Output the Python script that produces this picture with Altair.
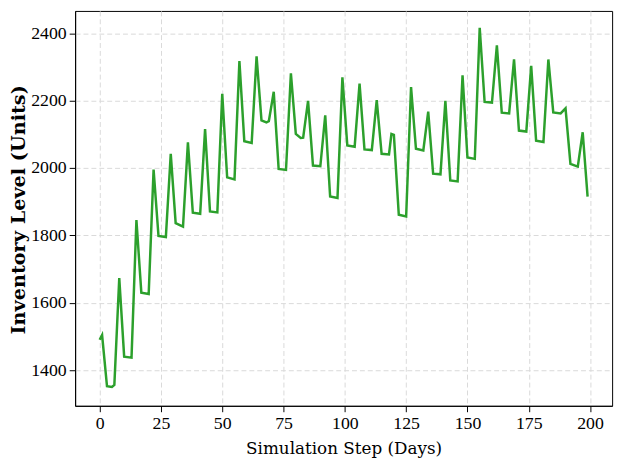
import altair as alt
import pandas as pd

steps = [0, 1, 3, 5, 6, 8, 10, 13, 15, 17, 20, 22, 24, 27, 29, 31, 34, 36, 38, 41,
         43, 45, 48, 50, 52, 55, 57, 59, 62, 64, 66, 68, 69, 71, 73, 76, 78, 80, 82, 83,
         85, 87, 90, 92, 94, 97, 99, 101, 104, 106, 108, 111, 113, 115, 118, 119, 120, 122, 125, 127,
         129, 132, 134, 136, 139, 141, 143, 146, 148, 150, 153, 155, 157, 160, 162, 164, 167, 169, 171, 174,
         176, 178, 181, 183, 185, 188, 190, 192, 195, 197, 199]
inventory = [1490, 1504, 1352, 1350, 1356, 1673, 1440, 1437, 1845, 1630, 1626, 1995, 1798, 1795, 2042, 1836, 1826, 2076, 1867, 1864,
             2115, 1871, 1868, 2220, 1972, 1966, 2317, 2079, 2074, 2331, 2141, 2135, 2139, 2226, 1997, 1994, 2281, 2101, 2089, 2090,
             2199, 2007, 2005, 2156, 1915, 1911, 2269, 2067, 2063, 2250, 2055, 2053, 2201, 2042, 2040, 2101, 2098, 1861, 1856, 2240,
             2057, 2052, 2167, 1983, 1981, 2199, 1963, 1960, 2275, 2031, 2027, 2416, 2196, 2194, 2364, 2164, 2162, 2322, 2111, 2108,
             2303, 2081, 2077, 2322, 2165, 2162, 2177, 2012, 2004, 2106, 1915]
x_ticks = [0, 25, 50, 75, 100, 125, 150, 175, 200]
y_ticks = [1400, 1600, 1800, 2000, 2200, 2400]

df = pd.DataFrame({"step": steps, "inventory": inventory})

grid_color = "#d9d9d9"
tick_font = "Liberation Serif, Times New Roman, Times, serif"

chart = alt.Chart(df).mark_line(color="#2ca02c", strokeWidth=2.5).encode(
    x=alt.X("step:Q",
            scale=alt.Scale(domain=[-10, 209], nice=False, zero=False),
            axis=alt.Axis(values=x_ticks, format="d", title="Simulation Step (Days)",
                          labelFont=tick_font, labelFontSize=18, labelColor="black",
                          titleFont="DejaVu Serif", titleFontSize=17, titleFontWeight="normal",
                          titleColor="black", titlePadding=8,
                          tickColor="black", tickSize=6, labelPadding=3,
                          domainColor="black",
                          grid=True, gridColor=grid_color, gridDash=[5, 3], gridWidth=1)),
    y=alt.Y("inventory:Q",
            scale=alt.Scale(domain=[1294, 2466], nice=False, zero=False),
            axis=alt.Axis(values=y_ticks, format="d", title="Inventory Level (Units)",
                          labelFont=tick_font, labelFontSize=18, labelColor="black",
                          titleFont="DejaVu Serif", titleFontSize=19.5, titleFontWeight="bold",
                          titleColor="black", titleX=-57, titleY=201, titleAngle=270,
                          titleBaseline="middle", titleAlign="center",
                          tickColor="black", tickSize=6, labelPadding=3,
                          domainColor="black",
                          grid=True, gridColor=grid_color, gridDash=[5, 3], gridWidth=1)),
).properties(
    width=544,
    height=400,
    background="white",
    autosize=alt.AutoSizeParams(type="none"),
    padding={"left": 68, "top": 0, "right": 9, "bottom": 57},
).configure_view(
    stroke="black", strokeWidth=1
)

chart.save("out.html", embed_options={"renderer": "svg", "actions": False})
